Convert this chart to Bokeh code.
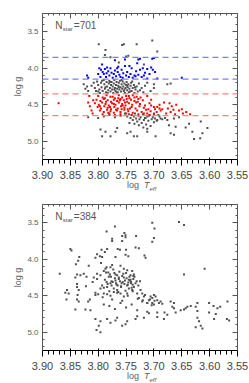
from bokeh.plotting import figure
from bokeh.models import Span, Label, LinearAxis, Range1d, FixedTicker, NumeralTickFormatter, CustomJSTickFormatter, Div
from bokeh.layouts import column
from bokeh.embed import file_html
from bokeh.resources import INLINE

# ---------------- data (log Teff, log g) ----------------
x_ticks = [3.90, 3.85, 3.80, 3.75, 3.70, 3.65, 3.60, 3.55]
y_ticks = [3.5, 4.0, 4.5, 5.0]
blue_lines = [3.85, 4.15]
red_lines = [4.35, 4.65]
n_star_top = 701
n_star_bottom = 384

top_blue_T = [3.818, 3.820, 3.798, 3.795, 3.792, 3.788, 3.785, 3.782, 3.780, 3.776, 3.772, 3.770, 3.768, 3.765,
              3.762, 3.760, 3.758, 3.755, 3.752, 3.750, 3.748, 3.745, 3.742, 3.740, 3.738, 3.735, 3.732, 3.730,
              3.728, 3.725, 3.722, 3.720, 3.716, 3.712, 3.708, 3.705, 3.702, 3.698, 3.700, 3.703, 3.725, 3.728,
              3.752, 3.770, 3.793, 3.790, 3.786, 3.778, 3.774, 3.764, 3.756, 3.733, 3.718, 3.694, 3.650, 3.800,
              3.796, 3.784, 3.766, 3.744, 3.712]
top_blue_g = [4.13, 4.10, 4.00, 4.02, 4.05, 4.01, 4.07, 4.04, 4.10, 4.06, 4.08, 4.03, 4.11, 4.05,
              4.09, 4.12, 4.02, 4.07, 3.97, 4.10, 4.05, 4.12, 4.08, 4.00, 4.13, 4.10, 4.04, 3.93,
              4.09, 4.02, 4.12, 4.00, 4.06, 4.01, 4.08, 3.99, 4.02, 4.05, 3.86, 3.87, 3.87, 3.88,
              3.88, 3.89, 3.95, 4.08, 4.12, 4.00, 4.13, 3.98, 4.13, 4.11, 4.10, 4.14, 4.13, 4.08,
              4.12, 3.99, 4.00, 3.97, 4.14]

top_red_T = [3.800, 3.792, 3.785, 3.778, 3.770, 3.763, 3.757, 3.750, 3.744, 3.738, 3.731, 3.724, 3.712,
             3.803, 3.796, 3.790, 3.783, 3.777, 3.772, 3.766, 3.760, 3.754, 3.748, 3.741, 3.735, 3.728, 3.720, 3.705,
             3.806, 3.799, 3.793, 3.787, 3.781, 3.775, 3.769, 3.763, 3.757, 3.751, 3.745, 3.739, 3.732, 3.725, 3.716, 3.708,
             3.801, 3.795, 3.789, 3.783, 3.777, 3.771, 3.765, 3.759, 3.753, 3.747, 3.740, 3.733, 3.726, 3.718, 3.710, 3.700, 3.690,
             3.797, 3.790, 3.784, 3.778, 3.772, 3.766, 3.760, 3.753, 3.746, 3.738, 3.730, 3.722, 3.714, 3.706,
             3.792, 3.780, 3.770, 3.760, 3.750, 3.740, 3.728, 3.718, 3.708,
             3.788, 3.774, 3.761, 3.752, 3.779, 3.768, 3.756, 3.743, 3.735, 3.786, 3.797, 3.764, 3.749, 3.772, 3.758, 3.782, 3.745, 3.729,
             3.705, 3.698, 3.695, 3.690, 3.688, 3.682, 3.678, 3.675, 3.670, 3.668, 3.665, 3.662, 3.660, 3.655, 3.650, 3.648, 3.642,
             3.635, 3.700, 3.712, 3.694, 3.685, 3.672,
             3.871, 3.818, 3.815, 3.812, 3.810, 3.816, 3.809]
top_red_g = [4.38, 4.40, 4.37, 4.39, 4.41, 4.37, 4.40, 4.38, 4.41, 4.37, 4.39, 4.40, 4.38,
             4.43, 4.45, 4.42, 4.44, 4.46, 4.43, 4.45, 4.42, 4.44, 4.46, 4.43, 4.45, 4.42, 4.44, 4.43,
             4.48, 4.50, 4.47, 4.49, 4.51, 4.48, 4.50, 4.47, 4.49, 4.51, 4.48, 4.50, 4.47, 4.49, 4.51, 4.48,
             4.53, 4.55, 4.52, 4.54, 4.56, 4.53, 4.55, 4.52, 4.54, 4.56, 4.53, 4.55, 4.52, 4.54, 4.56, 4.53, 4.55,
             4.58, 4.60, 4.57, 4.59, 4.61, 4.58, 4.60, 4.57, 4.59, 4.61, 4.58, 4.60, 4.57, 4.59,
             4.63, 4.62, 4.64, 4.63, 4.62, 4.64, 4.63, 4.62, 4.64,
             4.41, 4.39, 4.44, 4.47, 4.53, 4.57, 4.51, 4.55, 4.40, 4.46, 4.52, 4.41, 4.42, 4.49, 4.56, 4.61, 4.38, 4.46,
             4.51, 4.56, 4.60, 4.50, 4.58, 4.47, 4.62, 4.55, 4.60, 4.52, 4.57, 4.63, 4.50, 4.58, 4.56, 4.62, 4.60,
             4.63, 4.64, 4.62, 4.53, 4.56, 4.48,
             4.48, 4.47, 4.52, 4.58, 4.62, 4.38, 4.44]

top_gray_T = [3.799, 3.787, 3.757, 3.754, 3.731, 3.703, 3.694, 3.788, 3.778, 3.750, 3.746, 3.763, 3.718,
              3.812, 3.808, 3.806, 3.804, 3.802, 3.800, 3.798, 3.797, 3.795, 3.794, 3.792, 3.790, 3.789, 3.788,
              3.786, 3.785, 3.784, 3.782, 3.781, 3.780, 3.779, 3.778, 3.777, 3.776, 3.775, 3.774, 3.773, 3.772,
              3.771, 3.770, 3.769, 3.768, 3.767, 3.766, 3.765, 3.764, 3.763, 3.762, 3.761, 3.760, 3.759, 3.758,
              3.757, 3.756, 3.755, 3.754, 3.753, 3.752, 3.751, 3.750, 3.749, 3.748, 3.747, 3.746, 3.745, 3.744,
              3.742, 3.741, 3.740, 3.738, 3.736, 3.735, 3.733, 3.731, 3.729, 3.727, 3.725, 3.722, 3.719, 3.716,
              3.800, 3.793, 3.787, 3.783, 3.779, 3.771, 3.767, 3.763, 3.758, 3.753, 3.748, 3.743, 3.739, 3.734,
              3.826, 3.823, 3.818, 3.820, 3.700, 3.676, 3.700, 3.712, 3.706, 3.670,
              3.752, 3.748, 3.745, 3.742, 3.740, 3.738, 3.736, 3.734, 3.732, 3.730, 3.728, 3.726, 3.724, 3.722,
              3.720, 3.718, 3.716, 3.714, 3.712, 3.710, 3.708, 3.706, 3.704, 3.702, 3.700, 3.698, 3.695, 3.690,
              3.685, 3.680, 3.744, 3.727, 3.719, 3.712, 3.735, 3.760, 3.770, 3.780, 3.790, 3.800, 3.818,
              3.787, 3.778, 3.769, 3.766, 3.748, 3.742, 3.736, 3.730, 3.712, 3.694, 3.688, 3.676, 3.664, 3.655,
              3.673, 3.661, 3.643, 3.637, 3.631, 3.616, 3.613, 3.617, 3.628, 3.604, 3.670, 3.664, 3.697, 3.796,
              3.793, 3.709, 3.715, 3.700, 3.692]
top_gray_g = [3.67, 3.75, 3.68, 3.67, 3.67, 3.62, 3.77, 3.82, 3.85, 3.84, 3.83, 3.92, 3.95,
              4.24, 4.20, 4.27, 4.31, 4.18, 4.23, 4.29, 4.34, 4.20, 4.26, 4.31, 4.16, 4.22, 4.28,
              4.33, 4.19, 4.25, 4.30, 4.21, 4.17, 4.27, 4.32, 4.23, 4.19, 4.29, 4.25, 4.34, 4.21,
              4.16, 4.27, 4.31, 4.23, 4.19, 4.28, 4.33, 4.24, 4.20, 4.29, 4.17, 4.26, 4.32, 4.22,
              4.28, 4.18, 4.25, 4.31, 4.21, 4.34, 4.27, 4.23, 4.19, 4.30, 4.26, 4.22, 4.33, 4.28,
              4.24, 4.20, 4.31, 4.27, 4.23, 4.34, 4.29, 4.25, 4.32, 4.21, 4.30, 4.27, 4.33, 4.24,
              4.32, 4.17, 4.26, 4.34, 4.19, 4.29, 4.33, 4.26, 4.16, 4.29, 4.24, 4.32, 4.18, 4.26,
              4.22, 4.28, 4.31, 4.25, 4.22, 4.22, 4.27, 4.20, 4.31, 4.21,
              4.62, 4.66, 4.63, 4.68, 4.64, 4.71, 4.66, 4.62, 4.69, 4.73, 4.65, 4.70, 4.67, 4.75,
              4.63, 4.71, 4.68, 4.77, 4.66, 4.72, 4.64, 4.79, 4.70, 4.67, 4.74, 4.69, 4.72, 4.66,
              4.70, 4.68, 4.75, 4.78, 4.81, 4.83, 4.76, 4.65, 4.67, 4.64, 4.66, 4.68, 4.67,
              4.87, 4.93, 4.87, 4.82, 4.89, 4.87, 4.93, 4.93, 4.87, 4.71, 4.69, 4.71, 4.69, 4.67,
              4.78, 4.80, 4.81, 4.76, 4.87, 4.73, 4.89, 4.96, 4.97, 4.82, 4.89, 4.91, 4.93, 4.84,
              4.93, 4.65, 4.68, 4.62, 4.64]

bot_T = [3.703, 3.655, 3.646, 3.699, 3.770, 3.785, 3.753, 3.751, 3.757, 3.751, 3.732, 3.775, 3.775, 3.700,
         3.757, 3.703, 3.850, 3.848, 3.784, 3.794, 3.765, 3.761, 3.750, 3.733, 3.727, 3.802, 3.788, 3.797,
         3.805, 3.793, 3.834, 3.717, 3.715, 3.769, 3.751, 3.746, 3.840, 3.817, 3.826, 3.838, 3.841, 3.832,
         3.838, 3.838, 3.835, 3.837, 3.838, 3.835, 3.856, 3.853, 3.869, 3.859, 3.857, 3.818, 3.815, 3.805,
         3.805, 3.808, 3.802, 3.802, 3.796, 3.790, 3.785, 3.778, 3.775, 3.760, 3.754, 3.748, 3.739, 3.742,
         3.736, 3.766, 3.763, 3.769, 3.778, 3.784, 3.793, 3.796, 3.790, 3.778, 3.772, 3.766, 3.760, 3.754,
         3.748, 3.745, 3.739, 3.736, 3.730, 3.724, 3.721, 3.718, 3.727, 3.721, 3.712, 3.709, 3.706, 3.703,
         3.700, 3.697, 3.694, 3.691, 3.688, 3.685, 3.703, 3.700, 3.694, 3.694, 3.681, 3.676, 3.670, 3.667,
         3.664, 3.664, 3.661, 3.652, 3.646, 3.643, 3.640, 3.634, 3.625, 3.622, 3.622, 3.622, 3.619, 3.616,
         3.613, 3.625, 3.601, 3.601, 3.593, 3.592, 3.589, 3.586, 3.581, 3.568, 3.569, 3.565, 3.609, 3.646,
         3.682, 3.718, 3.712, 3.709, 3.730, 3.733, 3.748, 3.751, 3.757, 3.766, 3.769, 3.784, 3.778, 3.796,
         3.805, 3.799, 3.803, 3.796, 3.814, 3.823, 3.841, 3.836, 3.821, 3.822,
         3.786, 3.781, 3.776, 3.771, 3.767, 3.763, 3.758, 3.755, 3.752, 3.748, 3.744, 3.741, 3.737, 3.733,
         3.788, 3.783, 3.779, 3.774, 3.770, 3.765, 3.761, 3.757, 3.753, 3.749, 3.746, 3.742, 3.738, 3.735,
         3.790, 3.785, 3.780, 3.776, 3.772, 3.768, 3.764, 3.759, 3.756, 3.751, 3.747, 3.743, 3.740, 3.731,
         3.787, 3.782, 3.777, 3.773, 3.769, 3.762, 3.759, 3.754, 3.750, 3.745, 3.741, 3.737, 3.728, 3.725,
         3.792, 3.784, 3.775, 3.766, 3.757, 3.747, 3.738, 3.729, 3.720, 3.716, 3.712, 3.707, 3.704, 3.699,
         3.810, 3.800, 3.795, 3.790, 3.780, 3.770, 3.760, 3.750, 3.740, 3.730]
bot_g = [3.50, 3.49, 3.53, 3.58, 3.55, 3.62, 3.64, 3.67, 3.68, 3.70, 3.68, 3.72, 3.75, 3.71,
         3.75, 3.76, 3.86, 3.88, 3.86, 3.87, 3.86, 3.87, 3.87, 3.84, 3.85, 3.93, 3.90, 3.96,
         3.98, 3.97, 3.97, 3.95, 3.98, 3.97, 3.94, 3.96, 4.07, 4.09, 4.20, 4.21, 4.25, 4.22,
         4.34, 4.38, 4.42, 4.49, 4.55, 4.58, 4.42, 4.47, 4.20, 4.46, 4.55, 4.58, 4.55, 4.49,
         4.46, 4.25, 4.27, 4.20, 4.22, 4.16, 4.11, 4.11, 4.08, 4.09, 4.13, 4.15, 4.16, 4.22,
         4.21, 4.22, 4.25, 4.29, 4.33, 4.38, 4.36, 4.40, 4.47, 4.50, 4.45, 4.42, 4.47, 4.51,
         4.47, 4.40, 4.42, 4.38, 4.47, 4.42, 4.47, 4.51, 4.53, 4.58, 4.60, 4.56, 4.51, 4.53,
         4.49, 4.51, 4.56, 4.60, 4.58, 4.61, 4.60, 4.62, 4.73, 4.79, 4.73, 4.76, 4.58, 4.65,
         4.60, 4.67, 4.73, 4.70, 4.69, 4.67, 4.65, 4.64, 4.65, 4.60, 4.71, 4.80, 4.85, 4.91,
         4.95, 4.93, 4.60, 4.73, 4.64, 4.82, 4.75, 4.67, 4.65, 4.58, 4.82, 4.84, 4.13, 4.21,
         4.82, 4.80, 4.72, 4.74, 4.78, 4.82, 4.85, 4.89, 4.91, 4.80, 4.84, 4.82, 4.87, 4.85,
         4.82, 4.91, 4.97, 5.00, 4.70, 4.69, 4.69, 4.02, 4.24, 4.37,
         4.18, 4.24, 4.30, 4.19, 4.35, 4.27, 4.33, 4.20, 4.29, 4.36, 4.24, 4.31, 4.27, 4.33,
         4.28, 4.34, 4.21, 4.31, 4.26, 4.36, 4.30, 4.23, 4.34, 4.26, 4.32, 4.28, 4.35, 4.24,
         4.39, 4.31, 4.44, 4.36, 4.40, 4.33, 4.45, 4.38, 4.31, 4.43, 4.35, 4.29, 4.39, 4.30,
         4.13, 4.18, 4.24, 4.14, 4.21, 4.17, 4.37, 4.25, 4.19, 4.28, 4.33, 4.23, 4.36, 4.30,
         4.52, 4.48, 4.55, 4.46, 4.57, 4.50, 4.44, 4.54, 4.56, 4.49, 4.60, 4.55, 4.63, 4.57,
         4.31, 4.48, 4.05, 4.62, 4.64, 4.68, 4.60, 4.66, 4.62, 4.70]

GRAY = "#505050"
AXC = "#555555"
TXC = "#606060"
FONT = "Liberation Sans"

x_minor = [round(3.55 + i * 0.01, 2) for i in range(36)]
y_minor = [round(3.3 + i * 0.1, 1) for i in range(20)]


def panel(fh, btop, bbot, series, nstar):
    p = figure(frame_width=195, frame_height=fh, x_range=Range1d(3.90, 3.55), y_range=Range1d(5.25, 3.25),
               output_backend="svg", toolbar_location=None, margin=0,
               min_border_left=42, min_border_right=11, min_border_top=btop, min_border_bottom=bbot)
    p.xgrid.visible = False
    p.ygrid.visible = False
    p.outline_line_color = AXC
    p.background_fill_color = "white"
    p.border_fill_color = "white"

    p.xaxis.ticker = FixedTicker(ticks=x_ticks, minor_ticks=x_minor)
    p.yaxis.ticker = FixedTicker(ticks=y_ticks, minor_ticks=y_minor)
    p.xaxis.formatter = NumeralTickFormatter(format="0.00")
    p.yaxis.formatter = NumeralTickFormatter(format="0.0")
    blank = CustomJSTickFormatter(code="return ''")
    top = LinearAxis(ticker=FixedTicker(ticks=x_ticks, minor_ticks=x_minor), formatter=blank)
    right = LinearAxis(ticker=FixedTicker(ticks=y_ticks, minor_ticks=y_minor), formatter=blank)
    p.add_layout(top, "above")
    p.add_layout(right, "right")
    for ax in [p.xaxis[0], p.yaxis[0], top, right]:
        ax.axis_line_color = AXC
        ax.major_tick_line_color = AXC
        ax.minor_tick_line_color = AXC
        ax.major_tick_in = 5
        ax.major_tick_out = 0
        ax.minor_tick_in = 2
        ax.minor_tick_out = 0
        ax.major_label_text_color = TXC
        ax.major_label_text_font = FONT
        ax.major_label_text_font_size = "8px"
        ax.major_label_standoff = 4
        ax.axis_label_text_font = FONT
        ax.axis_label_text_font_size = "9px"
        ax.axis_label_text_color = TXC
        ax.axis_label_text_font_style = "normal"
    p.xaxis[0].major_label_standoff = 1
    for ax in [top, right]:
        ax.major_label_standoff = 0
        ax.major_label_text_font_size = "1px"
    p.yaxis[0].axis_label = "log g"
    p.yaxis[0].axis_label_standoff = 1

    for (xs, ys, col) in series:
        p.scatter(xs, ys, size=2.0, marker="square", color=col, line_width=0)

    # N_star label
    p.add_layout(Label(x=3.877, y=3.42, text="N", text_font=FONT, text_font_size="10px",
                       text_color="#555555", text_baseline="middle"))
    p.add_layout(Label(x=3.877, y=3.42, x_offset=7.5, y_offset=-3, text="star", text_font=FONT,
                       text_font_size="6px", text_color="#555555", text_baseline="middle"))
    p.add_layout(Label(x=3.877, y=3.42, x_offset=18.5, text="=" + str(nstar), text_font=FONT,
                       text_font_size="10px", text_color="#555555", text_baseline="middle"))
    return p


def xlabel():
    return Div(text="log&nbsp;&nbsp;<i>T</i><sub style='font-size:6px;font-style:italic'>eff</sub>",
               width=248, height=9, margin=0,
               styles={"font-size": "9px", "color": TXC, "font-family": FONT,
                       "padding-left": "127px", "line-height": "8px", "box-sizing": "border-box"})


p1 = panel(146, 13, 12, [(top_gray_T, top_gray_g, GRAY), (top_blue_T, top_blue_g, "#0000ff"),
                          (top_red_T, top_red_g, "#ff0000")], n_star_top)
for v in blue_lines:
    p1.add_layout(Span(location=v, dimension="width", line_color="#7c7cff", line_dash="6 4", line_width=1.2))
for v in red_lines:
    p1.add_layout(Span(location=v, dimension="width", line_color="#ff8080", line_dash="6 4", line_width=1.2))

p2 = panel(146, 14, 12, [(bot_T, bot_g, GRAY)], n_star_bottom)

layout = column(p1, xlabel(), p2, xlabel(), spacing=0, margin=0)
open("out.html", "w").write(file_html(layout, INLINE))
